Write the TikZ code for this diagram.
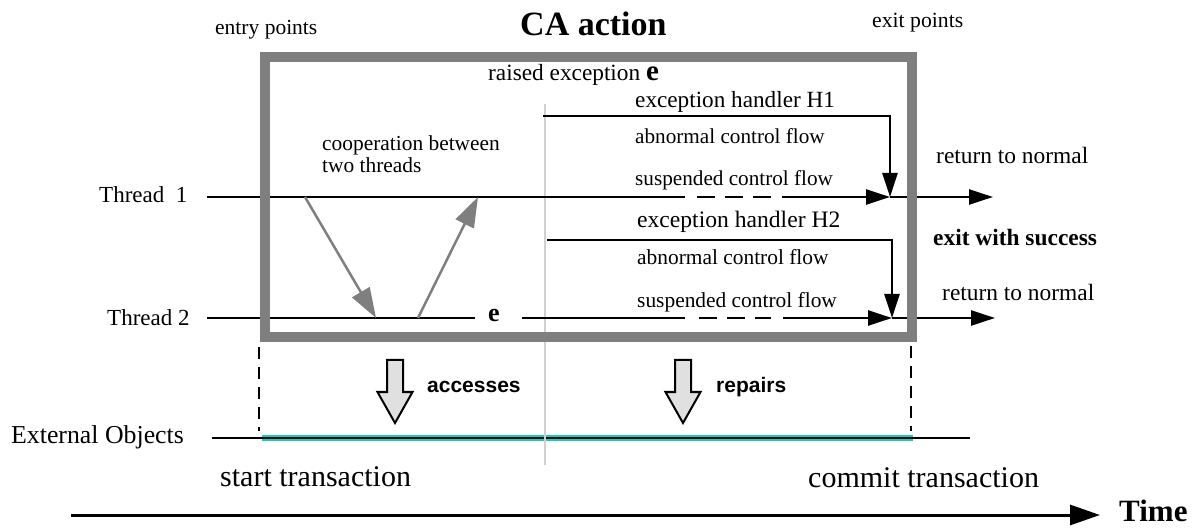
\documentclass[tikz,border=0pt]{standalone}
\usepackage{fontspec}
\setmainfont{Liberation Serif}
\setsansfont{Liberation Sans}
\usetikzlibrary{arrows.meta}
\newcommand{\myfs}[1]{\fontsize{#1}{#1}\selectfont}
\definecolor{boxgray}{HTML}{7F7F7F}
\definecolor{lightline}{HTML}{D0D0D0}
\definecolor{cyanline}{HTML}{14CFC2}
\definecolor{hollowfill}{HTML}{E0E0E0}
\tikzset{
  lbl/.style={inner sep=0pt, anchor=west},
  flow/.style={line width=2.5pt, black},
  flowarrow/.style={flow, -{Triangle[length=24pt,width=15pt]}},
  dashflow/.style={flow, dash pattern=on 18pt off 10pt},
  coop/.style={line width=2.5pt, boxgray, -{Triangle[length=30pt,width=20pt]}},
  hollow/.style={draw=black, line width=2pt, fill=hollowfill, line join=miter},
  vdash/.style={line width=2.5pt, black, dash pattern=on 12pt off 8pt},
}
\begin{document}
\begin{tikzpicture}[x=1pt,y=-1pt]
\useasboundingbox (0,0) rectangle (1200,529);

% ---------- coordinates ----------
\coordinate (t1s) at (207,197);
\coordinate (t1a) at (685,197);
\coordinate (t1b) at (697,197);
\coordinate (t1c) at (771,197);
\coordinate (t1d) at (782,197);
\coordinate (t1m) at (890,197);
\coordinate (t1e) at (993,197);
\coordinate (t2s) at (207,318);
\coordinate (t2a) at (475,318);
\coordinate (t2b) at (522,318);
\coordinate (t2c) at (685,318);
\coordinate (t2d) at (699,318);
\coordinate (t2f) at (771,318);
\coordinate (t2g) at (783,318);
\coordinate (t2m) at (892,318);
\coordinate (t2e) at (995,318);
\coordinate (h1s) at (543,116);
\coordinate (h1c) at (890,116);
\coordinate (h2s) at (547,240);
\coordinate (h2c) at (892,240);
\coordinate (g1s) at (305,197);
\coordinate (g1e) at (376,318);
\coordinate (g2s) at (418,318);
\coordinate (g2e) at (478,197);
\coordinate (gvt) at (545,104);
\coordinate (gvb) at (545,465);
\coordinate (dl1) at (259,347);
\coordinate (dl2) at (259,431);
\coordinate (dr1) at (911,346);
\coordinate (dr2) at (911,431);
\coordinate (exs) at (212,438);
\coordinate (exe) at (970,438);
\coordinate (cys) at (262,438);
\coordinate (cye) at (913,438);
\coordinate (tms) at (71,515);
\coordinate (tme) at (1100,515);
\coordinate (bxa) at (265,57);
\coordinate (bxb) at (912,337);

% ---------- external objects line ----------
\draw[line width=6.5pt, cyanline] (cys) -- (cye);
\draw[line width=2.5pt] (exs) -- (exe);

% ---------- light vertical line ----------
\draw[line width=2pt, lightline] (gvt) -- (gvb);

% ---------- thread 1 ----------
\draw[flow] (t1s) -- (t1a);
\draw[dashflow] (t1b) -- (t1c);
\draw[flowarrow] (t1d) -- (t1m);
\draw[flowarrow] (t1m) -- (t1e);

% ---------- thread 2 ----------
\node[inner sep=0pt, font=\myfs{26}\bfseries] (e2) at (494,316) {e};
\draw[flow] (t2s) -- (t2a);
\draw[flow] (t2b) -- (t2c);
\draw[dashflow] (t2d) -- (t2f);
\draw[flowarrow] (t2g) -- (t2m);
\draw[flowarrow] (t2m) -- (t2e);

% ---------- handlers ----------
\draw[flowarrow] (h1s) -- (h1c) -- (t1m);
\draw[flowarrow] (h2s) -- (h2c) -- (t2m);

% ---------- cooperation arrows ----------
\draw[coop] (g1s) -- (g1e);
\draw[coop] (g2s) -- (g2e);

% ---------- CA action box ----------
\draw[line width=10pt, boxgray] (bxa) rectangle (bxb);

% ---------- dashed verticals ----------
\draw[vdash] (dl1) -- (dl2);
\draw[vdash] (dr1) -- (dr2);

% ---------- hollow arrows ----------
\draw[hollow] (387,360) -- (403,360) -- (403,392) -- (412.5,392) -- (395,423) -- (377.5,392) -- (387,392) -- cycle;
\draw[hollow] (675,360) -- (691,360) -- (691,392) -- (700.5,392) -- (683,423) -- (665.5,392) -- (675,392) -- cycle;

% ---------- time arrow ----------
\draw[line width=3pt, -{Triangle[length=30pt,width=20pt]}] (tms) -- (tme);

% ---------- labels ----------
\node[lbl, font=\myfs{21.5}] (entry) at (215,30) {entry points};
\node[lbl, font=\myfs{34}\bfseries] (title) at (520,24) {CA action};
\node[lbl, font=\myfs{21.7}] (exitp) at (872,23) {exit points};
\node[lbl, font=\myfs{23.3}] (raised) at (488,75) {raised exception \myfs{29}\bfseries e};
\node[lbl, font=\myfs{23.2}] (hh1) at (635,102) {exception handler H1};
\node[lbl, font=\myfs{21.2}] (ab1) at (635,136) {abnormal control flow};
\node[lbl, font=\myfs{21.2}] (su1) at (635,180) {suspended control flow};
\node[lbl, font=\myfs{23.6}] (hh2) at (637,222) {exception handler H2};
\node[lbl, font=\myfs{21.4}] (ab2) at (637,257) {abnormal control flow};
\node[lbl, font=\myfs{21.4}] (su2) at (637,302) {suspended control flow};
\node[lbl, font=\myfs{21.4}, align=left] (coopl) at (322,154) {cooperation between\\two threads};
\node[lbl, font=\myfs{23}] (th1) at (99,195) {Thread\ \ 1};
\node[lbl, font=\myfs{23}] (th2) at (107,318) {Thread 2};
\node[lbl, font=\myfs{23.4}] (rn1) at (936,155) {return to normal};
\node[lbl, font=\myfs{23.4}\bfseries] (succ) at (933,238) {exit with success};
\node[lbl, font=\myfs{23.4}] (rn2) at (942,292) {return to normal};
\node[lbl, font=\myfs{21}\sffamily\bfseries] (acc) at (427,387) {accesses};
\node[lbl, font=\myfs{21}\sffamily\bfseries] (rep) at (716,387) {repairs};
\node[lbl, font=\myfs{25.8}] (ext) at (11,437) {External Objects};
\node[lbl, font=\myfs{30}] (st) at (220,477) {start transaction};
\node[lbl, font=\myfs{30}] (ct) at (808,478) {commit transaction};
\node[lbl, font=\myfs{31}\bfseries] (time) at (1119,511) {Time};
\end{tikzpicture}
\end{document}
